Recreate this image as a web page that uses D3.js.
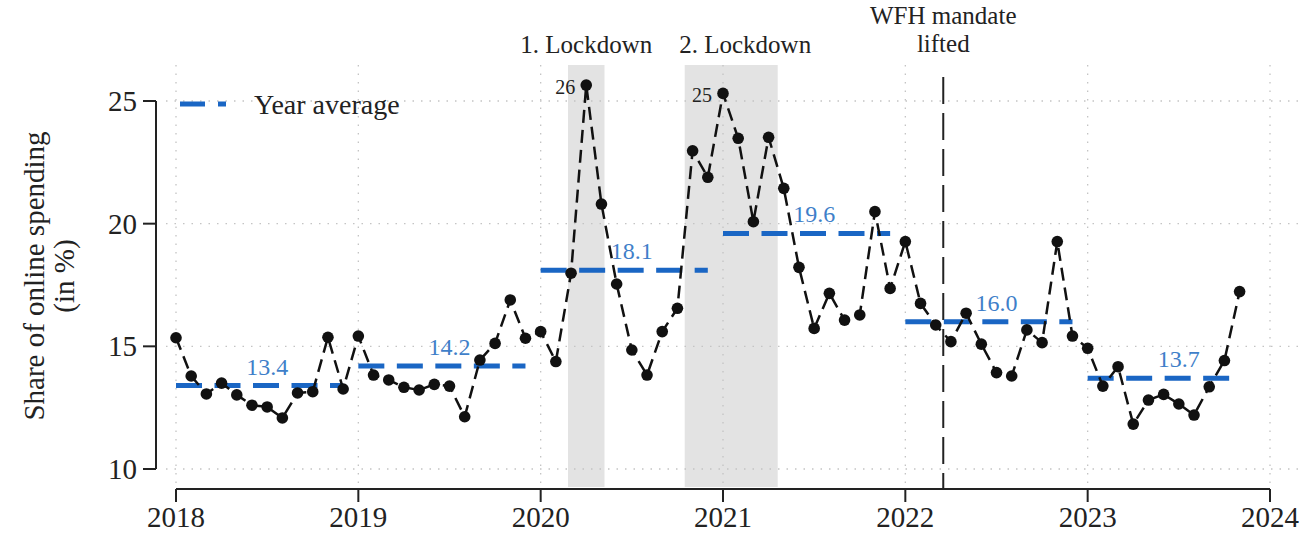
<!DOCTYPE html>
<html>
<head>
<meta charset="utf-8">
<script src="https://cdn.jsdelivr.net/npm/d3@7"></script>
<style>
  html, body { margin: 0; padding: 0; background: #fff; }
  svg { display: block; }
  text { font-family: "Liberation Serif", "Times New Roman", serif; }
</style>
</head>
<body>
<svg id="chart" width="1312" height="535"></svg>
<script>
// ---- DATA ----
const years = [2018, 2019, 2020, 2021, 2022, 2023];
const share2018 = [15.35, 13.79, 13.06, 13.5, 13.02, 12.6, 12.53, 12.08, 13.1, 13.15, 15.37, 13.26];
const share2019 = [15.42, 13.83, 13.63, 13.33, 13.22, 13.45, 13.38, 12.13, 14.44, 15.12, 16.89, 15.33];
const share2020 = [15.6, 14.38, 17.98, 25.65, 20.8, 17.54, 14.85, 13.83, 15.6, 16.55, 22.97, 21.89];
const share2021 = [25.31, 23.48, 20.08, 23.52, 21.44, 18.22, 15.73, 17.16, 16.07, 16.28, 20.49, 17.36];
const share2022 = [19.27, 16.75, 15.87, 15.19, 16.35, 15.09, 13.93, 13.79, 15.67, 15.15, 19.27, 15.42];
const share2023 = [14.92, 13.38, 14.17, 11.83, 12.81, 13.04, 12.65, 12.2, 13.35, 14.42, 17.23];
const yearAverages = [13.4, 14.2, 18.1, 19.6, 16.0, 13.7];
const lockdowns = [
  { label: "1. Lockdown", start: 2020.15, end: 2020.35 },
  { label: "2. Lockdown", start: 2020.79, end: 2021.30 }
];
const wfhDate = 2022.208;
const wfhLabel = ["WFH mandate", "lifted"];
const peakLabels = [ { year: 2020, month: 3, text: "26" }, { year: 2021, month: 0, text: "25" } ];
const xTicks = [2018, 2019, 2020, 2021, 2022, 2023, 2024];
const yTicks = [10, 15, 20, 25];
const yTitle = ["Share of online spending", "(in %)"];
const legendLabel = "Year average";

const allShares = [share2018, share2019, share2020, share2021, share2022, share2023];
const series = [];
allShares.forEach((arr, i) => arr.forEach((v, m) => series.push({ t: years[i] + m / 12, v })));

// ---- LAYOUT ----
const svg = d3.select("#chart");
const x = d3.scaleLinear().domain([2018, 2024]).range([176, 1270]);
const y = d3.scaleLinear().domain([10, 25]).range([469, 101]);
const plotTop = 65, plotBottom = 487, gridLeft = 166, gridRight = 1300;
const blue = "#1a66c4", blueText = "#3f7fc9";

// lockdown shading
svg.selectAll("rect.lock").data(lockdowns).join("rect")
  .attr("x", d => x(d.start)).attr("width", d => x(d.end) - x(d.start))
  .attr("y", plotTop).attr("height", plotBottom - plotTop)
  .attr("fill", "#e3e3e3");

// grid
svg.selectAll("line.hgrid").data(yTicks).join("line")
  .attr("x1", gridLeft).attr("x2", gridRight)
  .attr("y1", d => y(d)).attr("y2", d => y(d))
  .attr("stroke", "#c4c4c4").attr("stroke-width", 1.3).attr("stroke-dasharray", "1.5,7");
svg.selectAll("line.vgrid").data(xTicks).join("line")
  .attr("x1", d => x(d)).attr("x2", d => x(d))
  .attr("y1", plotTop).attr("y2", plotBottom)
  .attr("stroke", "#c4c4c4").attr("stroke-width", 1.3).attr("stroke-dasharray", "1.5,7");

// lockdown labels
svg.selectAll("text.lock").data(lockdowns).join("text")
  .attr("x", d => (x(d.start) + x(d.end)) / 2 + (d.label.startsWith("2") ? 14 : 0))
  .attr("y", 53).attr("text-anchor", "middle")
  .attr("font-size", 25).attr("fill", "#222").text(d => d.label);

// WFH line
svg.append("line")
  .attr("x1", x(wfhDate)).attr("x2", x(wfhDate))
  .attr("y1", 77).attr("y2", 489)
  .attr("stroke", "#222").attr("stroke-width", 2).attr("stroke-dasharray", "27,9");
svg.selectAll("text.wfh").data(wfhLabel).join("text")
  .attr("x", x(wfhDate)).attr("y", (d, i) => 24 + i * 28)
  .attr("text-anchor", "middle").attr("font-size", 25).attr("fill", "#222").text(d => d);

// year average lines
years.forEach((yr, i) => {
  const endT = yr + (allShares[i].length - 1) / 12;
  svg.append("line")
    .attr("x1", x(yr)).attr("x2", x(endT))
    .attr("y1", y(yearAverages[i])).attr("y2", y(yearAverages[i]))
    .attr("stroke", blue).attr("stroke-width", 5).attr("stroke-dasharray", "26,12.5");
  svg.append("text")
    .attr("x", x(yr + 0.5)).attr("y", y(yearAverages[i]) - 11)
    .attr("text-anchor", "middle").attr("font-size", 24).attr("fill", blueText)
    .text(yearAverages[i].toFixed(1));
});

// data line
svg.append("path").datum(series)
  .attr("d", d3.line().x(d => x(d.t)).y(d => y(d.v)))
  .attr("fill", "none").attr("stroke", "#111").attr("stroke-width", 2.5)
  .attr("stroke-dasharray", "13,7");
svg.selectAll("circle.pt").data(series).join("circle")
  .attr("cx", d => x(d.t)).attr("cy", d => y(d.v)).attr("r", 5.8).attr("fill", "#111");

// peak labels
svg.selectAll("text.peak").data(peakLabels).join("text")
  .attr("x", d => x(d.year + d.month / 12) - 11)
  .attr("y", d => y(allShares[years.indexOf(d.year)][d.month]) + 9)
  .attr("text-anchor", "end").attr("font-size", 20).attr("fill", "#222").text(d => d.text);

// y axis
const yAxisG = svg.append("g").attr("transform", "translate(156,0)");
yAxisG.append("line").attr("x1", 0).attr("x2", 0).attr("y1", y(25)).attr("y2", y(10))
  .attr("stroke", "#222").attr("stroke-width", 2);
yAxisG.selectAll("line.t").data(yTicks).join("line")
  .attr("x1", -13).attr("x2", 0).attr("y1", d => y(d)).attr("y2", d => y(d))
  .attr("stroke", "#222").attr("stroke-width", 2);
yAxisG.selectAll("text").data(yTicks).join("text")
  .attr("x", -19).attr("y", d => y(d)).attr("dy", "0.35em")
  .attr("text-anchor", "end").attr("font-size", 29).attr("fill", "#222").text(d => d);

// x axis
const xAxisG = svg.append("g").attr("transform", "translate(0,489)");
xAxisG.append("line").attr("x1", x(2018)).attr("x2", x(2024)).attr("y1", 0).attr("y2", 0)
  .attr("stroke", "#222").attr("stroke-width", 2);
xAxisG.selectAll("line.t").data(xTicks).join("line")
  .attr("x1", d => x(d)).attr("x2", d => x(d)).attr("y1", 0).attr("y2", 13)
  .attr("stroke", "#222").attr("stroke-width", 2);
xAxisG.selectAll("text").data(xTicks).join("text")
  .attr("x", d => x(d)).attr("y", 38)
  .attr("text-anchor", "middle").attr("font-size", 29).attr("fill", "#222").text(d => d);

// y title
svg.selectAll("text.ytitle").data(yTitle).join("text")
  .attr("transform", (d, i) => `translate(${44 + i * 30},276) rotate(-90)`)
  .attr("text-anchor", "middle").attr("font-size", 29).attr("fill", "#222").text(d => d);

// legend
svg.append("line").attr("x1", 180).attr("x2", 226).attr("y1", 104).attr("y2", 104)
  .attr("stroke", blue).attr("stroke-width", 5).attr("stroke-dasharray", "25,13");
svg.append("text").attr("x", 254).attr("y", 104).attr("dy", "0.35em")
  .attr("font-size", 28).attr("fill", "#222").text(legendLabel);
</script>
</body>
</html>
